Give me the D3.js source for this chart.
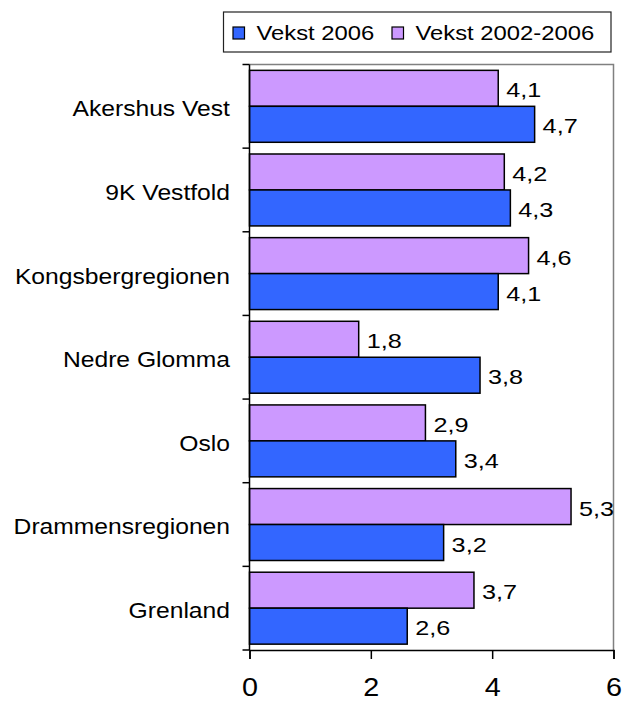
<!DOCTYPE html>
<html>
<head>
<meta charset="utf-8">
<script src="https://cdn.jsdelivr.net/npm/d3@7"></script>
<style>
  body { margin: 0; background: #fff; overflow: hidden; }
  svg { font-family: "Liberation Sans", Arial, sans-serif; display: block; }
</style>
</head>
<body>
<div class="chart"></div>
<script>
// data
var categories = ["Akershus Vest", "9K Vestfold", "Kongsbergregionen", "Nedre Glomma", "Oslo", "Drammensregionen", "Grenland"];
var vekst2006 = [4.7, 4.3, 4.1, 3.8, 3.4, 3.2, 2.6];
var vekst0206 = [4.1, 4.2, 4.6, 1.8, 2.9, 5.3, 3.7];
var seriesNames = ["Vekst 2006", "Vekst 2002-2006"];
var xTicks = [0, 2, 4, 6];

var w = 634, h = 702;
// plot area edges (note: "top" is reserved on window, so use pTop etc)
var pLeft = 249.5, pRight = 613.5, pTop = 64.5, pBottom = 650;

// the original text is a bit wider than plain Arial, stretch it
function stretch(sel, k) {
    sel.each(function() {
        var len = this.getComputedTextLength();
        d3.select(this).attr("textLength", len * k).attr("lengthAdjust", "spacingAndGlyphs");
    });
}

var svg = d3.select(".chart").append("svg")
    .attr("width", w)
    .attr("height", h);

var x = d3.scaleLinear().domain([0, 6]).range([pLeft, pRight]);
var y = d3.scaleBand().domain(categories).range([pTop, pBottom]).paddingInner(0.14).paddingOuter(0.07);
var rowH = (pBottom - pTop) / categories.length;

// plot border (top + right, gray)
svg.append("path")
    .attr("d", "M" + pLeft + "," + pTop + "H" + pRight + "V" + pBottom)
    .attr("fill", "none")
    .attr("stroke", "#808080")
    .attr("stroke-width", 1.5);

var fmt = function(d) { return String(d).replace(".", ","); };

// bars: purple on top, blue below
var barH = y.bandwidth() / 2;
var rows = svg.selectAll("g.row").data(categories).enter().append("g").attr("class", "row");

rows.append("rect")
    .attr("x", x(0))
    .attr("y", function(d) { return y(d); })
    .attr("width", function(d, i) { return x(vekst0206[i]) - x(0); })
    .attr("height", barH)
    .attr("fill", "#CC99FF")
    .attr("stroke", "#000")
    .attr("stroke-width", 1.5);

rows.append("rect")
    .attr("x", x(0))
    .attr("y", function(d) { return y(d) + barH; })
    .attr("width", function(d, i) { return x(vekst2006[i]) - x(0); })
    .attr("height", barH)
    .attr("fill", "#3366FF")
    .attr("stroke", "#000")
    .attr("stroke-width", 1.5);

var v1 = rows.append("text")
    .text(function(d, i) { return fmt(vekst0206[i]); })
    .attr("x", function(d, i) { return x(vekst0206[i]) + 8; })
    .attr("y", function(d) { return y(d) + barH / 2; })
    .attr("dy", "0.43em")
    .attr("font-size", "21px")
    .attr("fill", "#000");

var v2 = rows.append("text")
    .text(function(d, i) { return fmt(vekst2006[i]); })
    .attr("x", function(d, i) { return x(vekst2006[i]) + 8; })
    .attr("y", function(d) { return y(d) + barH * 1.5; })
    .attr("dy", "0.43em")
    .attr("font-size", "21px")
    .attr("fill", "#000");
stretch(v1, 1.2);
stretch(v2, 1.2);

// category labels
var cats = rows.append("text")
    .text(function(d) { return d; })
    .attr("x", 230)
    .attr("y", function(d) { return y(d) + y.bandwidth() / 2; })
    .attr("dy", "0.45em")
    .attr("text-anchor", "end")
    .attr("font-size", "22px")
    .attr("fill", "#000");
stretch(cats, 1.12);

// y axis line + ticks at row borders
svg.append("line")
    .attr("x1", pLeft).attr("x2", pLeft)
    .attr("y1", pTop).attr("y2", pBottom)
    .attr("stroke", "#000").attr("stroke-width", 1.5);
svg.selectAll("line.ytick").data(d3.range(categories.length + 1)).enter().append("line")
    .attr("class", "ytick")
    .attr("x1", pLeft - 7).attr("x2", pLeft)
    .attr("y1", function(d) { return pTop + d * rowH; })
    .attr("y2", function(d) { return pTop + d * rowH; })
    .attr("stroke", "#000").attr("stroke-width", 1.5);

// x axis
var xAxis = svg.append("g")
    .attr("transform", "translate(0," + pBottom + ")")
    .call(d3.axisBottom(x).tickValues(xTicks).tickFormat(d3.format("d")).tickSize(9));
xAxis.select(".domain").attr("stroke", "#000").attr("stroke-width", 1.5);
xAxis.selectAll(".tick line").attr("stroke", "#000").attr("stroke-width", 1.5);
var tks = xAxis.selectAll(".tick text")
    .attr("y", 46)
    .attr("dy", 0)
    .attr("font-family", "Liberation Sans, Arial, sans-serif")
    .attr("font-size", "25px")
    .attr("fill", "#000");
stretch(tks, 1.15);

// legend
var lg = svg.append("g");
lg.append("rect")
    .attr("x", 223.5).attr("y", 12)
    .attr("width", 387.5).attr("height", 40)
    .attr("fill", "#fff").attr("stroke", "#222").attr("stroke-width", 1.2);
var legendColors = ["#3366FF", "#CC99FF"];
var legendX = [233, 392];
seriesNames.forEach(function(name, i) {
    lg.append("rect")
        .attr("x", legendX[i]).attr("y", 27)
        .attr("width", 11.5).attr("height", 12)
        .attr("fill", legendColors[i])
        .attr("stroke", "#000").attr("stroke-width", 1.2);
    var t = lg.append("text")
        .text(name)
        .attr("x", legendX[i] + 23.5)
        .attr("y", 40)
        .attr("font-size", "20px")
        .attr("fill", "#000");
    stretch(t, 1.19);
});
</script>
</body>
</html>
